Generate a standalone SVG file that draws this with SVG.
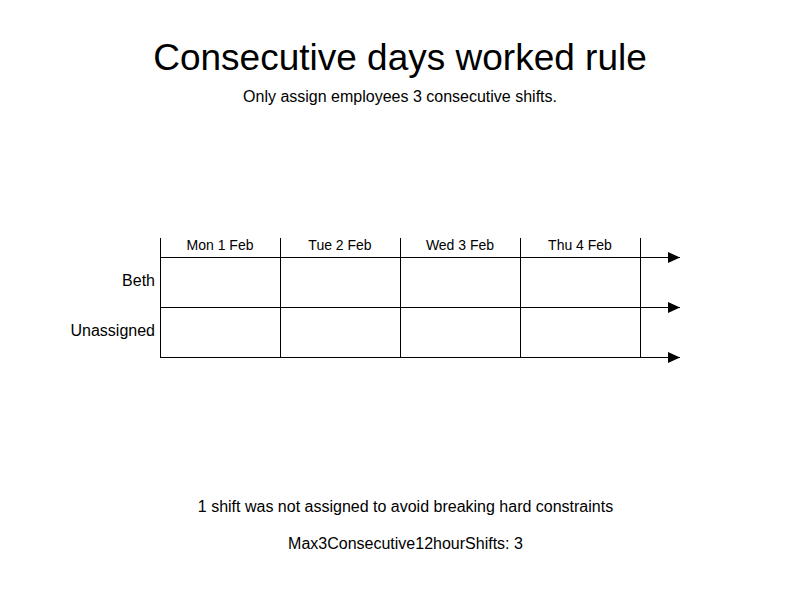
<svg xmlns="http://www.w3.org/2000/svg" width="800" height="600" viewBox="0 0 800 600">
  <style>
    text { font-family: "Liberation Sans", Arial, sans-serif; fill: #000; }
    .title { font-size: 37px; text-anchor: middle; }
    .sub { font-size: 16px; text-anchor: middle; }
    .day { font-size: 14px; text-anchor: middle; }
    .row { font-size: 16px; text-anchor: end; }
    .grid line { stroke: #000; stroke-width: 1; }
  </style>
  <defs>
    <marker id="arrow" viewBox="0 0 12 11" refX="12" refY="5.5" markerWidth="12" markerHeight="11" markerUnits="userSpaceOnUse" orient="auto">
      <path d="M0,0 L12,5.5 L0,11 Z" fill="#000"/>
    </marker>
  </defs>
  <rect width="800" height="600" fill="#fff"/>

  <text class="title" x="400" y="70">Consecutive days worked rule</text>
  <text class="sub" x="400" y="102">Only assign employees 3 consecutive shifts.</text>

  <!-- day columns -->
  <g id="days">
    <text class="day" x="220" y="250">Mon 1 Feb</text>
    <text class="day" x="340" y="250">Tue 2 Feb</text>
    <text class="day" x="460" y="250">Wed 3 Feb</text>
    <text class="day" x="580" y="250">Thu 4 Feb</text>
  </g>

  <!-- employee rows -->
  <g id="beth"><text class="row" x="155" y="286">Beth</text></g>
  <g id="unassigned"><text class="row" x="155" y="336">Unassigned</text></g>

  <g id="connectors" class="grid">
    <line x1="160.5" y1="238" x2="160.5" y2="357"/>
    <line x1="280.5" y1="238" x2="280.5" y2="357"/>
    <line x1="400.5" y1="238" x2="400.5" y2="357"/>
    <line x1="520.5" y1="238" x2="520.5" y2="357"/>
    <line x1="640.5" y1="238" x2="640.5" y2="357"/>
    <line x1="160" y1="257.5" x2="680" y2="257.5" marker-end="url(#arrow)"/>
    <line x1="160" y1="307.5" x2="680" y2="307.5" marker-end="url(#arrow)"/>
    <line x1="160" y1="357.5" x2="680" y2="357.5" marker-end="url(#arrow)"/>
  </g>

  <text class="sub" x="405.5" y="512">1 shift was not assigned to avoid breaking hard constraints</text>
  <text class="sub" x="405.5" y="549">Max3Consecutive12hourShifts: 3</text>
</svg>
